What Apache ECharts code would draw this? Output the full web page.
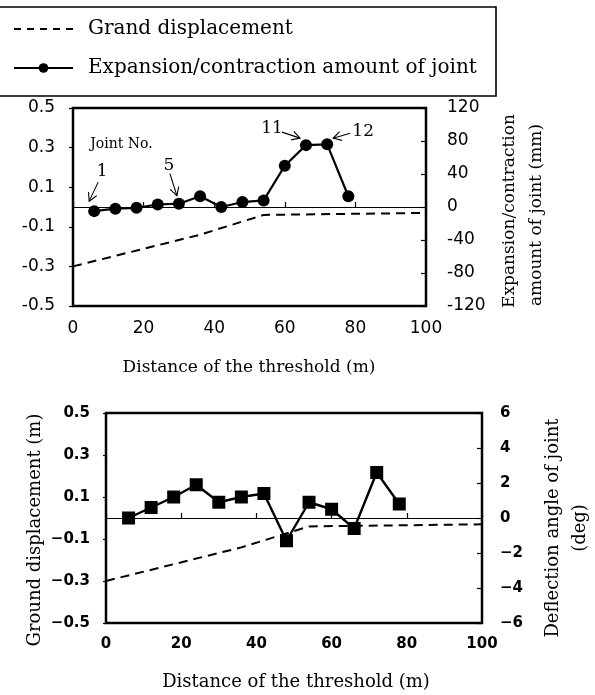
<!DOCTYPE html>
<html><head><meta charset="utf-8">
<script src="https://cdn.jsdelivr.net/npm/echarts@6/dist/echarts.min.js"></script>
<style>html,body{margin:0;padding:0;background:#fff}#c{width:595px;height:695px}</style>
</head><body><div id="c"></div>
<script>
// ---- data ----
const distance = [6, 12, 18, 24, 30, 36, 42, 48, 54, 60, 66, 72, 78];
const expansion = [-5, -2, -1, 3, 4, 13, 0, 6, 8, 50, 75, 76, 13];          // mm
const deflection = [0, 0.6, 1.2, 1.9, 0.9, 1.2, 1.4, -1.3, 0.9, 0.5, -0.6, 2.6, 0.8]; // deg
const groundX = [0, 36, 54, 100];
const groundY = [-0.3, -0.14, -0.04, -0.03];   // m
const xTicks = [0, 20, 40, 60, 80, 100];
const jointLabels = [{idx: 0, text: '1'}, {idx: 4, text: '5'}, {idx: 10, text: '11'}, {idx: 11, text: '12'}];

const serif = 'DejaVu Serif';
const sans = 'DejaVu Sans';
const zip = (a, b) => a.map((v, i) => [v, b[i]]);
const minus = s => String(s).replace('-', '\u2212');

const chart = echarts.init(document.getElementById('c'));

const zeroLine = {
  silent: true, symbol: ['none', 'none'], label: {show: false},
  lineStyle: {type: 'solid', width: 1, color: '#000'},
  emphasis: {disabled: true},
  data: [{yAxis: 0}]
};

const xAxisBase = (gi, font, bold, margin) => ({
  type: 'value', gridIndex: gi, min: 0, max: 100, interval: 20,
  axisLine: {show: false},
  axisTick: {show: true, inside: true, length: 5, lineStyle: {color: '#000', width: 1.2}},
  splitLine: {show: false},
  axisLabel: {color: '#000', fontFamily: font, fontSize: bold ? 15 : 17, fontWeight: bold ? 'bold' : 'normal', margin: margin}
});

const option = {
  animation: false,
  backgroundColor: '#fff',
  grid: [
    {left: 73, top: 108, width: 353, height: 198, show: true, borderColor: '#000', borderWidth: 2.5, backgroundColor: 'transparent'},
    {left: 106, top: 413, width: 376, height: 210, show: true, borderColor: '#000', borderWidth: 2.5, backgroundColor: 'transparent'}
  ],
  legend: {
    orient: 'vertical', left: 13, top: 17, padding: 0, itemWidth: 59, itemHeight: 12, itemGap: 15,
    selectedMode: false,
    textStyle: {fontFamily: serif, fontSize: 20, color: '#000', lineHeight: 24, padding: [0, 0, 0, 10]},
    data: [
      {name: 'Grand displacement', itemStyle: {opacity: 0}, lineStyle: {type: [7, 6], width: 2}},
      'Expansion/contraction amount of joint'
    ]
  },
  xAxis: [xAxisBase(0, sans, false, 14), xAxisBase(1, sans, true, 14)],
  yAxis: [
    {type: 'value', gridIndex: 0, position: 'left', min: -0.5, max: 0.5, interval: 0.2,
      axisLine: {show: false}, splitLine: {show: false},
      axisTick: {show: true, inside: false, length: 4, lineStyle: {color: '#000', width: 1.2}},
      axisLabel: {color: '#000', fontFamily: sans, fontSize: 17, margin: 18, formatter: v => v.toFixed(1)}},
    {type: 'value', gridIndex: 0, position: 'right', min: -120, max: 120, interval: 40,
      axisLine: {show: false}, splitLine: {show: false},
      axisTick: {show: true, inside: true, length: 5, lineStyle: {color: '#000', width: 1.2}},
      axisLabel: {color: '#000', fontFamily: sans, fontSize: 17, margin: 21, formatter: v => String(Math.round(v))}},
    {type: 'value', gridIndex: 1, position: 'left', min: -0.5, max: 0.5, interval: 0.2,
      axisLine: {show: false}, splitLine: {show: false},
      axisTick: {show: true, inside: false, length: 3, lineStyle: {color: '#000', width: 1.2}},
      axisLabel: {color: '#000', fontFamily: sans, fontWeight: 'bold', fontSize: 15, margin: 16, formatter: v => minus(v.toFixed(1))}},
    {type: 'value', gridIndex: 1, position: 'right', min: -6, max: 6, interval: 2,
      axisLine: {show: false}, splitLine: {show: false},
      axisTick: {show: true, inside: true, length: 5, lineStyle: {color: '#000', width: 1.2}},
      axisLabel: {color: '#000', fontFamily: sans, fontWeight: 'bold', fontSize: 15, margin: 18, formatter: v => minus(Math.round(v))}}
  ],
  series: [
    {name: 'Grand displacement', type: 'line', xAxisIndex: 0, yAxisIndex: 0, data: zip(groundX, groundY),
      symbol: 'none', color: '#000', lineStyle: {color: '#000', width: 2, type: [9, 6]}, markLine: zeroLine, z: 3},
    {name: 'Expansion/contraction amount of joint', type: 'line', xAxisIndex: 0, yAxisIndex: 1, data: zip(distance, expansion),
      symbol: 'circle', symbolSize: 12, color: '#000', itemStyle: {color: '#000'}, lineStyle: {color: '#000', width: 2.2}, z: 4},
    {name: 'Grand displacement', type: 'line', xAxisIndex: 1, yAxisIndex: 2, data: zip(groundX, groundY),
      symbol: 'none', color: '#000', lineStyle: {color: '#000', width: 2, type: [9, 6]}, markLine: zeroLine, z: 3},
    {name: 'Deflection angle of joint', type: 'line', xAxisIndex: 1, yAxisIndex: 3, data: zip(distance, deflection),
      symbol: 'rect', symbolSize: 13, color: '#000', itemStyle: {color: '#000'}, lineStyle: {color: '#000', width: 2.4}, z: 4}
  ]
};
chart.setOption(option);

// ---- titles, legend frame and joint annotations ----
const txt = (text, x, y, size, rot, extra) => Object.assign({
  type: 'text', x: x, y: y, rotation: rot || 0, silent: true,
  style: {text: text, fill: '#000', fontFamily: serif, fontSize: size, align: 'center', verticalAlign: 'middle'}
}, extra || {});
const R = Math.PI / 2;
const els = [
  {type: 'rect', silent: true, shape: {x: -3, y: 7, width: 499, height: 89}, style: {fill: 'none', stroke: '#000', lineWidth: 1.6}},
  txt('Distance of the threshold (m)', 249, 368, 17),
  txt('Expansion/contraction', 510, 211, 17, R),
  txt('amount of joint (mm)', 537, 215, 17, R),
  txt('Ground displacement (m)', 35, 530, 18, R),
  txt('Deflection angle of joint', 553, 528, 18, R),
  txt('(deg)', 580, 528, 18, R),
  txt('Distance of the threshold (m)', 296, 682, 18)
];

function arrow(tx, ty, sx, sy) {
  const dx = tx - sx, dy = ty - sy, L = Math.hypot(dx, dy);
  const ux = dx / L, uy = dy / L, nx = -uy, ny = ux;
  const h = 8, w = 4.5;
  els.push({type: 'line', silent: true, shape: {x1: sx, y1: sy, x2: tx, y2: ty}, style: {stroke: '#000', lineWidth: 1.1}});
  els.push({type: 'polyline', silent: true, shape: {points: [[tx - ux * h + nx * w, ty - uy * h + ny * w], [tx, ty], [tx - ux * h - nx * w, ty - uy * h - ny * w]]},
    style: {stroke: '#000', lineWidth: 1.1, fill: 'none'}});
}
// offsets (pixels) of tip, tail and number relative to each marked joint
const offs = {
  '1': {tip: [-5, -10], tail: [4, -29], label: [8, -40]},
  '5': {tip: [-2, -8], tail: [-9, -30], label: [-10, -38]},
  '11': {tip: [-6, -7], tail: [-24, -13], label: [-34, -17]},
  '12': {tip: [6, -6], tail: [23, -11], label: [36, -13]}
};
jointLabels.forEach(j => {
  const p = chart.convertToPixel({seriesIndex: 1}, [distance[j.idx], expansion[j.idx]]);
  const o = offs[j.text];
  arrow(p[0] + o.tip[0], p[1] + o.tip[1], p[0] + o.tail[0], p[1] + o.tail[1]);
  els.push(txt(j.text, p[0] + o.label[0], p[1] + o.label[1], 17, 0));
});
const p1 = chart.convertToPixel({seriesIndex: 1}, [distance[0], expansion[0]]);
els.push({type: 'text', x: p1[0] - 4, y: p1[1] - 67, silent: true,
  style: {text: 'Joint No.', fill: '#000', fontFamily: serif, fontSize: 14, align: 'left', verticalAlign: 'middle'}});

chart.setOption({graphic: {elements: els}});
</script>
</body></html>
